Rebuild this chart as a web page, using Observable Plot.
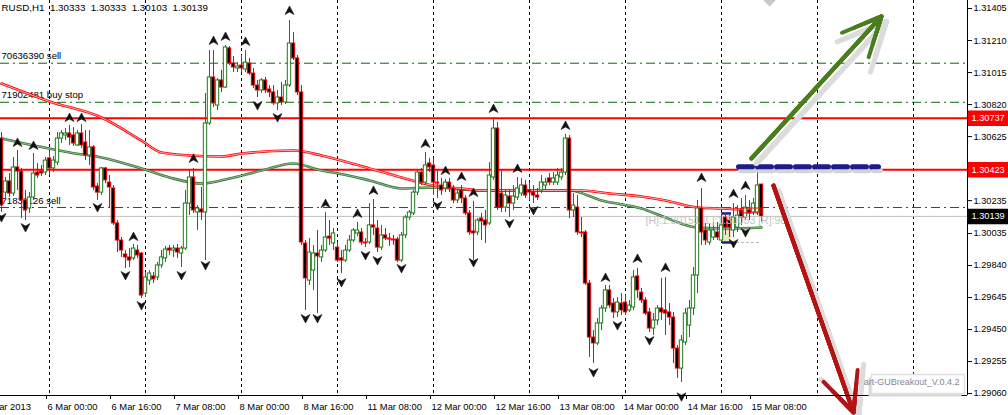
<!DOCTYPE html>
<html><head><meta charset="utf-8">
<script src="https://cdn.jsdelivr.net/npm/d3@7"></script>
<script src="https://cdn.jsdelivr.net/npm/@observablehq/plot@0.6"></script>
<style>html,body{margin:0;padding:0;background:#fff;}</style>
</head><body><div id="chart"></div>
<script>
// ---- data (EURUSD H1, bar index 0 = 5 Mar 12:00) ----
const openP=[1.30613,1.30284,1.30352,1.30278,1.30437,1.30412,1.30236,1.30187,1.30254,1.30406,
1.30412,1.30406,1.30492,1.30431,1.30467,1.30613,1.30632,1.30644,1.30632,1.30571,
1.30644,1.30589,1.30510,1.30559,1.30321,1.30284,1.30431,1.30345,1.30309,1.30096,
1.29992,1.29907,1.29889,1.29883,1.29931,1.29913,1.29669,1.29748,1.29773,1.29767,
1.29840,1.29883,1.29943,1.29931,1.29943,1.29913,1.29943,1.30217,1.30376,1.30163,
1.30181,1.30163,1.30705,1.30985,1.30814,1.30967,1.30924,1.31162,1.31070,1.31040,
1.31058,1.31034,1.31070,1.31009,1.30936,1.30906,1.30967,1.30912,1.30894,1.30827,
1.30863,1.30833,1.30936,1.31192,1.31101,1.30894,1.29974,1.29748,1.29809,1.29913,
1.29889,1.29931,1.30016,1.29974,1.29949,1.29883,1.29870,1.29931,1.29992,1.30035,
1.30041,1.29980,1.29980,1.30084,1.30065,1.29949,1.30023,1.30004,1.29998,1.29998,
1.29870,1.30023,1.30132,1.30157,1.30284,1.30406,1.30345,1.30461,1.30449,1.30345,
1.30327,1.30309,1.30345,1.30309,1.30236,1.30297,1.30248,1.30157,1.30047,1.30041,
1.30126,1.30114,1.30096,1.30376,1.30674,1.30278,1.30193,1.30260,1.30217,1.30254,
1.30278,1.30327,1.30297,1.30284,1.30266,1.30297,1.30327,1.30370,1.30345,1.30345,
1.30376,1.30406,1.30613,1.30175,1.30193,1.30041,1.30041,1.29730,1.29401,1.29365,
1.29487,1.29578,1.29688,1.29608,1.29554,1.29608,1.29614,1.29566,1.29584,1.29773,
1.29675,1.29627,1.29554,1.29456,1.29505,1.29578,1.29566,1.29554,1.29523,1.29334,
1.29212,1.29371,1.29474,1.29578,1.29779,1.30187,1.30053,1.29980,1.30010,1.30041,
1.29992,1.30132,1.30114,1.30053,1.30071,1.30175,1.30132,1.30175,1.30163,1.30163,
1.30333];
const highP=[1.30650,1.30376,1.30400,1.30498,1.30540,1.30431,1.30297,1.30284,1.30522,1.30461,
1.30449,1.30498,1.30540,1.30504,1.30650,1.30662,1.30674,1.30693,1.30680,1.30662,
1.30699,1.30662,1.30662,1.30571,1.30339,1.30437,1.30437,1.30388,1.30327,1.30114,
1.30010,1.29931,1.29943,1.29968,1.29962,1.29919,1.29797,1.29809,1.29797,1.29858,
1.29931,1.29956,1.29962,1.29962,1.29968,1.29956,1.30297,1.30418,1.30431,1.30205,
1.30315,1.30887,1.31149,1.31149,1.30979,1.31028,1.31180,1.31174,1.31113,1.31076,
1.31119,1.31149,1.31101,1.31040,1.30967,1.30979,1.30985,1.30936,1.30936,1.30906,
1.30954,1.30967,1.31332,1.31259,1.31119,1.30936,1.29992,1.30004,1.29962,1.30053,
1.29962,1.30163,1.30114,1.30065,1.29980,1.29931,1.29962,1.30023,1.30065,1.30102,
1.30065,1.30004,1.30217,1.30242,1.30114,1.30084,1.30065,1.30035,1.30023,1.30010,
1.30041,1.30144,1.30175,1.30297,1.30418,1.30431,1.30528,1.30492,1.30492,1.30418,
1.30370,1.30364,1.30370,1.30327,1.30297,1.30327,1.30266,1.30175,1.30230,1.30126,
1.30157,1.30175,1.30467,1.30741,1.30711,1.30418,1.30297,1.30297,1.30327,1.30376,
1.30370,1.30358,1.30345,1.30327,1.30309,1.30388,1.30370,1.30400,1.30406,1.30431,
1.30431,1.30638,1.30632,1.30278,1.30266,1.30132,1.30053,1.29748,1.29444,1.29517,
1.29596,1.29718,1.29718,1.29639,1.29645,1.29669,1.29657,1.29627,1.29810,1.29822,
1.29700,1.29645,1.29578,1.29547,1.29596,1.29761,1.29767,1.29608,1.29554,1.29353,
1.29413,1.29578,1.29627,1.29828,1.30236,1.30309,1.30096,1.30096,1.30102,1.30102,
1.30163,1.30157,1.30144,1.30217,1.30205,1.30248,1.30266,1.30236,1.30248,1.30406,
1.30333];
const lowP=[1.30163,1.30236,1.30254,1.30260,1.30297,1.30126,1.30114,1.30157,1.30236,1.30370,
1.30382,1.30388,1.30388,1.30406,1.30449,1.30583,1.30601,1.30571,1.30565,1.30565,
1.30553,1.30479,1.30449,1.30297,1.30236,1.30266,1.30339,1.30193,1.30084,1.29919,
1.29889,1.29822,1.29828,1.29870,1.29883,1.29639,1.29645,1.29718,1.29730,1.29748,
1.29822,1.29858,1.29901,1.29889,1.29883,1.29828,1.29931,1.30144,1.30157,1.30053,
1.30114,1.29870,1.30693,1.30802,1.30784,1.30894,1.30918,1.31058,1.31015,1.31015,
1.31015,1.31015,1.30997,1.30918,1.30863,1.30888,1.30888,1.30863,1.30814,1.30784,
1.30814,1.30820,1.30924,1.31088,1.30875,1.29962,1.29566,1.29718,1.29688,1.29547,
1.29858,1.29919,1.29962,1.29931,1.29858,1.29791,1.29858,1.29919,1.29980,1.30016,
1.29962,1.29949,1.29968,1.30023,1.29919,1.29931,1.29992,1.29956,1.29962,1.29858,
1.29858,1.30004,1.30114,1.30144,1.30266,1.30327,1.30327,1.30406,1.30266,1.30248,
1.30266,1.30284,1.30284,1.30217,1.30217,1.30217,1.30144,1.30023,1.29870,1.30023,
1.29992,1.29974,1.30084,1.30358,1.30175,1.30163,1.30163,1.30132,1.30175,1.30236,
1.30260,1.30248,1.30236,1.30217,1.30236,1.30278,1.30297,1.30327,1.30327,1.30327,
1.30358,1.30388,1.30126,1.30132,1.30023,1.30010,1.29718,1.29280,1.29243,1.29353,
1.29444,1.29554,1.29578,1.29517,1.29523,1.29535,1.29535,1.29554,1.29566,1.29639,
1.29608,1.29535,1.29432,1.29413,1.29474,1.29505,1.29413,1.29474,1.29243,1.29152,
1.29127,1.29353,1.29401,1.29535,1.29669,1.29962,1.29962,1.29962,1.29992,1.29992,
1.29980,1.30023,1.30010,1.30010,1.30041,1.30084,1.30114,1.30114,1.30144,1.30144,
1.30103];
const closeP=[1.30205,1.30352,1.30278,1.30437,1.30412,1.30236,1.30175,1.30254,1.30400,1.30388,
1.30400,1.30479,1.30431,1.30479,1.30613,1.30644,1.30644,1.30619,1.30583,1.30644,
1.30571,1.30510,1.30559,1.30315,1.30284,1.30431,1.30358,1.30315,1.30096,1.29992,
1.29931,1.29889,1.29870,1.29943,1.29901,1.29657,1.29767,1.29791,1.29755,1.29840,
1.29889,1.29937,1.29931,1.29943,1.29919,1.29943,1.30217,1.30376,1.30175,1.30187,
1.30163,1.30705,1.30985,1.30827,1.30967,1.30924,1.31168,1.31070,1.31046,1.31052,
1.31040,1.31076,1.31009,1.30936,1.30906,1.30967,1.30906,1.30894,1.30827,1.30863,
1.30833,1.30936,1.31192,1.31101,1.30894,1.29980,1.29761,1.29919,1.29913,1.29895,
1.29931,1.30010,1.30004,1.30035,1.29870,1.29870,1.29931,1.29992,1.30053,1.30053,
1.29980,1.29974,1.30084,1.30071,1.29949,1.30023,1.30004,1.29998,1.29992,1.29870,
1.30023,1.30132,1.30163,1.30284,1.30406,1.30345,1.30449,1.30437,1.30345,1.30339,
1.30297,1.30345,1.30309,1.30236,1.30278,1.30248,1.30157,1.30041,1.30035,1.30114,
1.30108,1.30084,1.30388,1.30674,1.30193,1.30193,1.30266,1.30217,1.30260,1.30309,
1.30327,1.30266,1.30284,1.30266,1.30254,1.30345,1.30345,1.30345,1.30370,1.30388,
1.30406,1.30613,1.30175,1.30205,1.30041,1.30035,1.29730,1.29401,1.29365,1.29487,
1.29578,1.29688,1.29596,1.29554,1.29614,1.29566,1.29554,1.29596,1.29767,1.29688,
1.29627,1.29547,1.29456,1.29505,1.29578,1.29554,1.29547,1.29523,1.29334,1.29212,
1.29383,1.29547,1.29578,1.29779,1.30187,1.30041,1.29992,1.30053,1.30053,1.30010,
1.30084,1.30071,1.30071,1.30132,1.30144,1.30132,1.30193,1.30157,1.30217,1.30327,
1.30139];

// moving averages (sampled bars)
const redMABars=[0,12,25,35,40,47,55,60,73,80,83,92,100,108,115,120,145,152,160,166,174,180,190];
const redMAValues=[1.30948,1.30839,1.30741,1.30601,1.30528,1.30510,1.30504,1.30522,1.30540,1.30510,1.30492,1.30431,1.30376,1.30327,1.30309,1.30297,1.30297,1.30278,1.30260,1.30236,1.30193,1.30187,1.30175];
const greenMABars=[0,8,17,25,35,42,50,57,65,73,80,83,92,100,108,120,142,150,160,166,174,182,190];
const greenMAValues=[1.30613,1.30571,1.30528,1.30498,1.30431,1.30376,1.30339,1.30370,1.30418,1.30461,1.30418,1.30406,1.30358,1.30309,1.30315,1.30297,1.30297,1.30236,1.30187,1.30132,1.30071,1.30065,1.30071];

// fractals
const upFractalBars=[4,8,17,20,33,48,53,56,61,72,81,89,93,106,111,115,118,123,129,141,151,159,166,175,183,186];
const upFractalPrices=[1.30589,1.30571,1.30741,1.30741,1.30016,1.30492,1.31210,1.31235,1.31204,1.31393,1.30217,1.30157,1.30297,1.30583,1.30418,1.30382,1.30284,1.30796,1.30431,1.30693,1.29767,1.29883,1.29828,1.30376,1.30278,1.30327];
const downFractalBars=[0,6,24,31,35,45,51,64,69,76,79,85,91,94,100,109,118,127,133,148,154,162,170,183,186];
const downFractalPrices=[1.30132,1.30071,1.30193,1.29779,1.29596,1.29779,1.29840,1.30814,1.30741,1.29517,1.29517,1.29736,1.29901,1.29870,1.29822,1.30205,1.29858,1.30096,1.30175,1.29188,1.29474,1.29383,1.29040,1.29974,1.30041];

// levels and labels
const orderLevels=[1.31072,1.30834,1.30193];
const orderLabels=["70636390 sell","71902481 buy stop","71831126 sell"];
const redLevels=[1.30737,1.30423];
const bidLevel=1.30139;
const yTicks=[1.31405,1.31210,1.31015,1.30820,1.30625,1.30235,1.30035,1.29840,1.29645,1.29450,1.29255,1.29060];
const xTickBars=[-4,12,28,44,60,76,92,108,124,140,156,172,188];
const xTickLabels=["5 Mar 2013","6 Mar 00:00","6 Mar 16:00","7 Mar 08:00","8 Mar 00:00","8 Mar 16:00","11 Mar 08:00","12 Mar 00:00","12 Mar 16:00","13 Mar 08:00","14 Mar 00:00","14 Mar 16:00","15 Mar 08:00"];
const gridBars=[12,36,60,84,108,132,156,180,204,228];
const titleSymbol="RUSD,H1";
const titleOHLC=["1.30333","1.30333","1.30103","1.30139"];

// drawn objects
const arrowStartBars=[187.5,193];
const arrowStartPrices=[1.30492,1.30327];
const arrowEndBars=[220,213];
const arrowEndPrices=[1.31357,1.28945];
const arrowColors=["#4a7d1c","#b51313"];
const targetBars=[184.25,219.25];
const targetPrice=1.30442;
const rangeBoxBars=[180.25,182.5];
const rangeBoxPrices=[1.30157,1.29980];
const redBoxBars=[185,190];
const redBoxPrices=[1.30187,1.30157];
const infoText="[H]:1.30151 [L]:1.30053 [R]:98";
const infoBar=161, infoPrice=1.30114;
const eaName="art-GUBreakout_V.0.4.2";
const topMarkBar=192;

// ---- build ----
const GREEN="#1b7a1b", RED="#ff0000";
const candles=openP.map((o,i)=>({i,o,h:highP[i],l:lowP[i],c:closeP[i],up:closeP[i]>=o}));
const redMA=redMABars.map((b,i)=>({b,v:redMAValues[i]}));
const greenMA=greenMABars.map((b,i)=>({b,v:greenMAValues[i]}));
const upF=upFractalBars.map((b,i)=>({b,p:upFractalPrices[i]}));
const dnF=downFractalBars.map((b,i)=>({b,p:downFractalPrices[i]}));
const orders=orderLevels.map((p,i)=>({p,label:orderLabels[i]}));
const arrows=arrowStartBars.map((b,i)=>({x1:b,y1:arrowStartPrices[i],x2:arrowEndBars[i],y2:arrowEndPrices[i],color:arrowColors[i]}));
const target=targetBars.map(b=>({b,p:targetPrice}));
const tags=[{p:redLevels[0],bg:RED},{p:redLevels[1],bg:RED},{p:bidLevel,bg:"#000"}];
const xTicks=xTickBars.map((b,i)=>({b,label:xTickLabels[i]}));
const titleLine=[titleSymbol,...titleOHLC].join("\u00a0 ");

const upSym={draw(ctx){ctx.moveTo(0,-4.5);ctx.lineTo(4.5,4);ctx.lineTo(0,1.5);ctx.lineTo(-4.5,4);ctx.closePath();}};
const dnSym={draw(ctx){ctx.moveTo(0,4.5);ctx.lineTo(4.5,-4);ctx.lineTo(0,-1.5);ctx.lineTo(-4.5,-4);ctx.closePath();}};
const tagSym={draw(ctx){ctx.rect(1,-7,39,14);}};
const wmSym={draw(ctx){ctx.rect(-96,-21,93,19);}};
const wmShadow={draw(ctx){ctx.rect(-99,-18,93,19);}};
const diamondSym={draw(ctx){ctx.moveTo(0,-6);ctx.lineTo(6,0);ctx.lineTo(0,6);ctx.lineTo(-6,0);ctx.closePath();}};

const arrowLayers=(opts)=>[16,11,7,4].map(h=>Plot.arrow(arrows,{x1:"x1",y1:"y1",x2:"x2",y2:"y2",headLength:h,headAngle:50,...opts}));

const FONT="'Liberation Sans', Arial, sans-serif";
const chart=Plot.plot({
  width:1008,height:415,
  marginLeft:0,marginRight:41,marginTop:0,marginBottom:20,
  x:{domain:[-0.25,241.5],axis:null},
  y:{domain:[1.29048,1.31454],axis:null},
  color:{type:"identity"},
  style:{fontFamily:FONT,fontSize:"9.4px",background:"white",overflow:"hidden"},
  marks:[
    Plot.ruleX(gridBars,{stroke:"#000",strokeDasharray:"3,3"}),
    Plot.ruleY(orderLevels,{stroke:"#0a6a0a",strokeDasharray:"9,4,2,4"}),
    Plot.ruleY([bidLevel],{stroke:"#c0c0c0"}),
    Plot.ruleY(redLevels,{stroke:RED,strokeWidth:2}),
    Plot.text(orders,{y:"p",text:"label",frameAnchor:"left",lineAnchor:"middle",textAnchor:"start",dx:1,dy:-7,fill:"#000",fontSize:9.6}),
    Plot.dot([0],{x:topMarkBar,frameAnchor:"top",symbol:diamondSym,fill:"#c8c8c8",stroke:"none"}),
    // range box of EA
    Plot.rect([0],{x1:rangeBoxBars[0],x2:rangeBoxBars[1],y1:rangeBoxPrices[0],y2:rangeBoxPrices[1],fill:"#ece6c4"}),
    Plot.ruleY([rangeBoxPrices[0],rangeBoxPrices[1]],{x1:rangeBoxBars[0],x2:rangeBoxBars[1],stroke:"#1c1c8a",strokeWidth:2.5}),
    Plot.ruleY([rangeBoxPrices[1]],{x1:rangeBoxBars[1],x2:redBoxBars[1],stroke:"#bbbbbb",strokeDasharray:"3,2"}),
    // moving averages
    Plot.line(greenMA,{x:"b",y:"v",stroke:"#2c7a2c",strokeWidth:2.6,curve:"monotone-x"}),
    Plot.line(greenMA,{x:"b",y:"v",stroke:"#b5b5b5",strokeWidth:0.9,curve:"monotone-x"}),
    Plot.line(redMA,{x:"b",y:"v",stroke:RED,strokeWidth:2.6,curve:"monotone-x"}),
    Plot.line(redMA,{x:"b",y:"v",stroke:"#f5c8c8",strokeWidth:0.9,curve:"monotone-x"}),
    // candles
    Plot.ruleX(candles,{x:"i",y1:"l",y2:"h",stroke:d=>d.up?GREEN:RED}),
    Plot.rect(candles,{x1:d=>d.i-0.42,x2:d=>d.i+0.42,y1:"o",y2:d=>Math.abs(d.c-d.o)<0.00003?d.o-0.00003:d.c,
      fill:d=>d.up?"#ffffff":"#000000",stroke:d=>d.up?GREEN:RED,strokeWidth:1}),
    Plot.rect([0],{x1:redBoxBars[0],x2:redBoxBars[1],y1:redBoxPrices[0],y2:redBoxPrices[1],stroke:RED,fill:"none"}),
    Plot.text([infoText],{x:infoBar,y:infoPrice,textAnchor:"start",fill:"#c2c2c2",fontSize:10.5}),
    // fractals
    Plot.dot(upF,{x:"b",y:"p",symbol:upSym,fill:"#111",stroke:"#111",strokeWidth:0.6}),
    Plot.dot(dnF,{x:"b",y:"p",symbol:dnSym,fill:"#111",stroke:"#111",strokeWidth:0.6}),
    // target line
    Plot.line(target,{x:"b",y:"p",stroke:"#d4d4d4",strokeWidth:5,strokeDasharray:"14,5",dy:4,dx:2}),
    Plot.line(target,{x:"b",y:"p",stroke:"#1c1c8a",strokeWidth:5,strokeDasharray:"14,5"}),
    // arrows (shadow, then arrow with filled head)
    ...arrowLayers({stroke:"#dcdcdc",strokeWidth:5,dx:5,dy:5}),
    ...arrowLayers({stroke:"color",strokeWidth:4}),
    // axes
    Plot.ruleX([241.5],{stroke:"#000"}),
    Plot.ruleY([1.29048],{stroke:"#000"}),
    Plot.axisY(yTicks,{anchor:"right",tickSize:4,tickPadding:2,tickFormat:d=>d.toFixed(5),fontSize:9.2}),
    Plot.axisX(xTickBars,{anchor:"bottom",tickSize:4,tickFormat:()=>"",dx:-3}),
    Plot.text(xTicks,{x:"b",text:"label",frameAnchor:"bottom",lineAnchor:"middle",dy:11,dx:-2,textAnchor:"start",fill:"#000"}),
    Plot.dot(tags,{y:"p",frameAnchor:"right",symbol:tagSym,fill:"bg",stroke:"bg"}),
    Plot.text(tags,{y:"p",frameAnchor:"right",dx:4,textAnchor:"start",text:d=>d.p.toFixed(5),fill:"#fff",fontSize:9.2}),
    // title
    Plot.text([titleLine],{frameAnchor:"top-left",lineAnchor:"middle",dx:1,dy:7,textAnchor:"start",fill:"#000",fontSize:9.8}),
    // EA label
    Plot.dot([0],{frameAnchor:"bottom-right",symbol:wmShadow,fill:"#d8d8d8",stroke:"none"}),
    Plot.dot([0],{frameAnchor:"bottom-right",symbol:wmSym,fill:"#fff",stroke:"#e0e0e0"}),
    Plot.text([eaName],{frameAnchor:"bottom-right",dx:-8,dy:-11,textAnchor:"end",fill:"#7f879a",fontSize:9})
  ]
});
document.getElementById("chart").appendChild(chart);
</script>
</body></html>
